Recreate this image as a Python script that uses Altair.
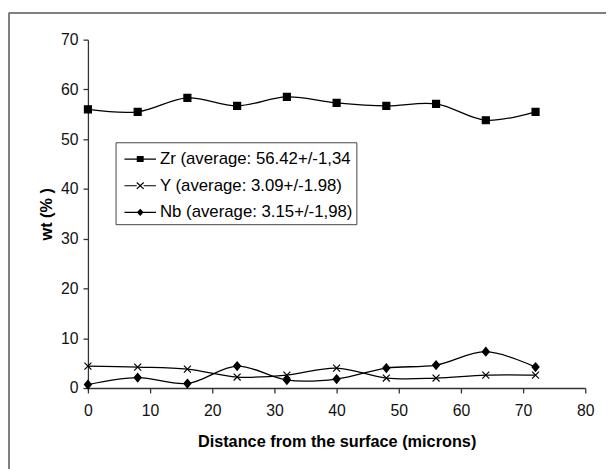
import altair as alt
import pandas as pd

distance = [0, 8, 16, 24, 32, 40, 48, 56, 64, 72]
zr = [56.0, 55.5, 58.3, 56.7, 58.5, 57.3, 56.7, 57.1, 53.8, 55.5]
y_vals = [4.4, 4.2, 3.8, 2.2, 2.6, 4.0, 2.0, 2.0, 2.6, 2.6]
nb = [0.7, 2.1, 0.9, 4.4, 1.6, 1.8, 4.0, 4.6, 7.3, 4.2]

labels = [
    "Zr (average: 56.42+/-1,34",
    "Y (average: 3.09+/-1.98)",
    "Nb (average: 3.15+/-1,98)",
]

rows = []
for lab, vals in zip(labels, [zr, y_vals, nb]):
    for d, v in zip(distance, vals):
        rows.append({"distance": d, "wt": v, "series": lab})
df = pd.DataFrame(rows)

point_shapes = [
    "M-1,-1H1V1H-1Z",
    "M-1,-1L1,1M-1,1L1,-1",
    "M0,-1.2L1,0L0,1.2L-1,0Z",
]
# legend glyphs drawn as filled outlines (line segment + marker)
legend_shapes = [
    "M-0.64,-0.05H1.92V0.05H-0.64ZM0.36,-0.24H0.92V0.24H0.36Z",
    "M-0.64,-0.04H0.36V0.04H-0.64ZM0.92,-0.04H1.92V0.04H0.92Z"
    "M0.326,-0.223L0.886,0.297L0.954,0.223L0.394,-0.297Z"
    "M0.394,0.297L0.954,-0.223L0.886,-0.297L0.326,0.223Z",
    "M-0.64,-0.05H1.92V0.05H-0.64ZM0.64,-0.3L0.92,0L0.64,0.3L0.36,0Z",
]

x_enc = alt.X("distance:Q", scale=alt.Scale(domain=[0, 80], nice=False),
              axis=alt.Axis(values=list(range(0, 81, 10)),
                            title="Distance from the surface (microns)"))
y_enc = alt.Y("wt:Q", scale=alt.Scale(domain=[0, 70], nice=False),
              axis=alt.Axis(values=list(range(0, 71, 10)), title="wt (% )"))

base = alt.Chart(df)

lines = base.mark_line(interpolate="catmull-rom", color="black", strokeWidth=1.3).encode(
    x=x_enc, y=y_enc, detail="series:N"
)

points = base.mark_point(filled=True, fill="black", stroke="black", strokeWidth=1.2,
                         opacity=1, size=50).encode(
    x="distance:Q", y="wt:Q",
    shape=alt.Shape("series:N", scale=alt.Scale(domain=labels, range=point_shapes),
                    legend=None),
)

legend_layer = base.mark_point(filled=True, color="black", opacity=0, size=1).encode(
    x="distance:Q", y="wt:Q",
    shape=alt.Shape(
        "series:N",
        scale=alt.Scale(domain=labels, range=legend_shapes),
        legend=alt.Legend(
            title=None, orient="none", legendX=28, legendY=104,
            symbolSize=625, symbolFillColor="black", symbolOpacity=1,
            labelFont="Liberation Sans", labelFontSize=17, labelColor="black",
            labelOffset=14.5, labelLimit=400, rowPadding=5, padding=3.5,
            strokeColor="#444444", fillColor="white",
        ),
    ),
)

frame_top = alt.Chart(df).mark_rule(color="#808080", strokeWidth=2).encode(
    x=alt.value(-80), x2=alt.value(560), y=alt.value(-27)
)
frame_left = alt.Chart(df).mark_rule(color="#808080", strokeWidth=2).encode(
    x=alt.value(-80), y=alt.value(-27), y2=alt.value(480)
)

chart = alt.layer(frame_top, frame_left, lines, points, legend_layer).resolve_scale(
    shape="independent"
).properties(
    width=504, height=353,
    autosize=alt.AutoSizeParams(type="none"),
    padding={"left": 81, "top": 29, "right": 21, "bottom": 79},
    background="white",
).configure_view(stroke=None).configure_axis(
    grid=False, domainColor="#333333", tickColor="#333333", domainWidth=1.3,
    tickWidth=1.3, tickSize=5, labelFont="Liberation Sans", labelFontSize=16,
    labelColor="#111111", titleFont="Liberation Sans", titleFontSize=16.5,
    titleFontWeight="bold", titleColor="black",
).configure_axisX(labelPadding=10, titlePadding=15, labelFlush=False).configure_axisY(
    labelPadding=5, titlePadding=6
)

chart.save("out.html", embed_options={"renderer": "svg", "actions": False})
